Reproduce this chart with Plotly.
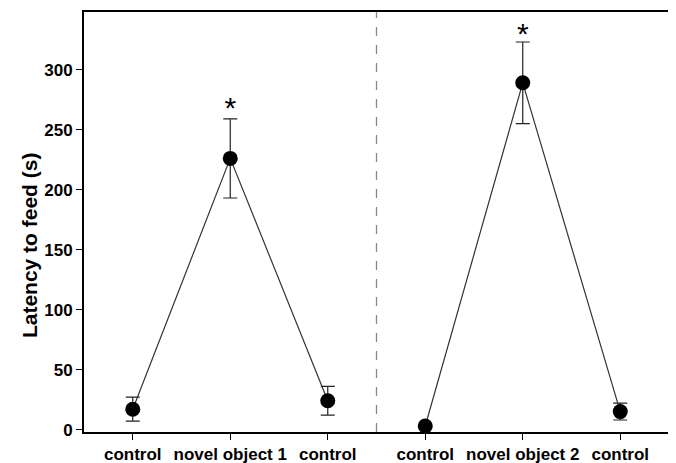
import plotly.graph_objects as go

categories = ["control", "novel object 1", "control", "control", "novel object 2", "control"]
xpos = [0, 1, 2, 3, 4, 5]
latency = [17, 226, 24, 3, 289, 15]
err = [10, 33, 12, 0, 34, 7]
star_y = [266, 328]
star_x = [1, 4]
divider_x = 2.5
y_title = "Latency to feed (s)"

fig = go.Figure()
for sl in (slice(0, 3), slice(3, 6)):
    fig.add_trace(go.Scatter(
        x=xpos[sl], y=latency[sl], mode="lines+markers",
        line=dict(color="#333333", width=1.2),
        marker=dict(size=15, color="black"),
        error_y=dict(type="data", array=err[sl], visible=True, color="#222222",
                     thickness=1.2, width=7),
        showlegend=False, hoverinfo="skip", cliponaxis=False))

fig.add_trace(go.Scatter(
    x=star_x, y=star_y, mode="text", text=["*", "*"],
    textfont=dict(size=30, color="black", family="Liberation Sans, Arial"),
    showlegend=False, hoverinfo="skip"))

fig.add_shape(type="line", x0=divider_x, x1=divider_x, y0=0, y1=1, xref="x", yref="paper",
              line=dict(color="#888888", width=1.3, dash="dash"))

fig.add_annotation(
    text=y_title, textangle=-90, xref="paper", yref="paper", x=0, y=0.445,
    xanchor="center", yanchor="middle", xshift=-55, showarrow=False,
    font=dict(size=21, weight="bold", family="Liberation Sans, Arial", color="black"))

fig.update_layout(
    width=668, height=455,
    margin=dict(l=76, r=7, t=4, b=31),
    plot_bgcolor="white", paper_bgcolor="white",
    font=dict(family="Liberation Sans, Arial", color="black"),
)
fig.update_xaxes(
    range=[-0.5, 5.5], tickmode="array", tickvals=xpos, ticktext=categories,
    showgrid=False, zeroline=False, showline=True, linecolor="black", linewidth=2,
    mirror=True, ticks="outside", ticklen=6, tickcolor="black", automargin=False,
    tickfont=dict(size=17, weight="bold", family="Liberation Sans, Arial"))
fig.update_yaxes(
    range=[-2, 348], tickvals=[0, 50, 100, 150, 200, 250, 300],
    showgrid=False, zeroline=False, showline=True, linecolor="black", linewidth=2,
    mirror=True, ticks="outside", ticklen=6, tickcolor="black", automargin=False,
    tickfont=dict(size=17, weight="bold", family="Liberation Sans, Arial"))

fig.write_html("out.html")
